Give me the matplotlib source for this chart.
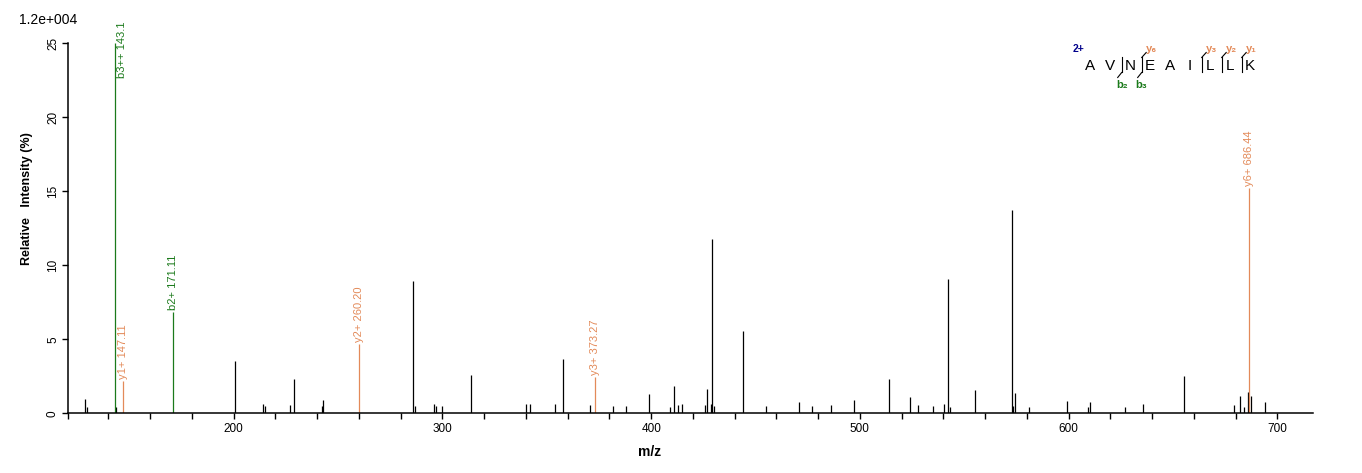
import matplotlib
matplotlib.use('Agg')
import matplotlib.pyplot as plt
from matplotlib.lines import Line2D

plt.rcParams['font.family'] = ['Liberation Sans', 'DejaVu Sans']

W, H = 1362, 473

# ---- data ----
peak_mz = [128.9, 129.7, 143.8, 200.8, 214.2, 215.1, 227.1, 229.0, 242.2, 242.9,
           286.05, 287.0, 296.1, 297.1, 299.9, 313.8, 340.2, 342.1, 354.1, 357.9,
           370.9, 381.9, 388.1, 399.1, 409.2, 411.1, 413.0, 414.9, 425.9, 426.9,
           428.8, 429.3, 430.3, 444.2, 455.2, 471.0, 477.2, 486.3, 497.3, 514.1,
           524.2, 528.0, 535.2, 540.5, 542.4, 543.3, 555.3, 573.0, 573.5, 574.5,
           581.2, 599.4, 609.5, 610.4, 627.2, 635.8, 655.4, 679.4, 682.3, 684.2,
           686.1, 687.6, 694.3]
peak_int = [0.97, 0.43, 0.43, 3.53, 0.63, 0.50, 0.57, 2.32, 0.52, 0.90,
            8.94, 0.50, 0.63, 0.50, 0.50, 2.59, 0.63, 0.63, 0.63, 3.69,
            0.57, 0.50, 0.50, 1.33, 0.43, 1.84, 0.57, 0.63, 0.57, 1.64,
            0.63, 11.78, 0.50, 5.56, 0.50, 0.77, 0.50, 0.57, 0.90, 2.32,
            1.10, 0.57, 0.50, 0.63, 9.07, 0.43, 1.57, 13.73, 0.50, 1.37,
            0.43, 0.84, 0.43, 0.77, 0.43, 0.63, 2.52, 0.57, 1.17, 0.43,
            1.44, 1.17, 0.77]

ann_mz = [142.9, 147.11, 171.11, 260.20, 373.27, 686.44]
ann_int = [25.0, 2.2, 6.87, 4.66, 2.45, 15.2]
ann_labels = ['b3++ 143.1', 'y1+ 147.11', 'b2+ 171.11', 'y2+ 260.20', 'y3+ 373.27', 'y6+ 686.44']
ann_type = ['b', 'y', 'b', 'y', 'y', 'y']

sequence = list("AVNEAILLK")
charge_label = "2+"
b_ions = [2, 3]          # b_n : break after residue n
y_ions = [6, 3, 2, 1]    # y_n : break before last n residues

x_major = [200, 300, 400, 500, 600, 700]
y_ticks = [0, 5, 10, 15, 20, 25]
scale_label = "1.2e+004"

ORANGE = '#E38A59'
GREEN = '#1B7A1B'
NAVY = '#00008B'

# ---- figure ----
fig = plt.figure(figsize=(W / 100, H / 100), dpi=100)
x0, x1 = 68.3, 1313.0
y0, y1 = 413.3, 43.3
ax = fig.add_axes([x0 / W, 1 - y0 / H, (x1 - x0) / W, (y0 - y1) / H])
ax.set_xlim(120.75, 717.1)
ax.set_ylim(0, 25)

ax.vlines(peak_mz, 0, peak_int, colors='black', lw=0.9)

for m, i, lab, t in zip(ann_mz, ann_int, ann_labels, ann_type):
    c = GREEN if t == 'b' else ORANGE
    ax.vlines([m], 0, [i], colors=c, lw=0.9)
    if i > 20:
        # label pushed down beside the line, top at ~21.7 px
        ax.annotate(lab, xy=(m, i), xycoords='data',
                    xytext=(5.6, (43.3 - 21.7) * 72 / 100), textcoords='offset points',
                    rotation=90, ha='center', va='top', color=c,
                    fontsize=8, annotation_clip=False)
    else:
        ax.annotate(lab, xy=(m, i), xycoords='data',
                    xytext=(0, 1.5), textcoords='offset points',
                    rotation=90, ha='center', va='bottom', color=c,
                    fontsize=8, annotation_clip=False)

for s in ['top', 'right']:
    ax.spines[s].set_visible(False)
ax.spines['left'].set_bounds(0, 25)
ax.spines['left'].set_linewidth(1.1)
ax.spines['bottom'].set_linewidth(1.1)

xt = [120.75] + list(range(140, 701, 20))
ax.set_xticks(xt)
ax.set_xticklabels([str(v) if v in x_major else '' for v in xt])
ax.set_yticks(y_ticks)
ax.set_yticklabels([str(v) for v in y_ticks], rotation=90, va='center')
ax.tick_params(axis='both', direction='out', length=4.4, width=1.0,
               labelsize=8.5, colors='black')
ax.tick_params(axis='x', pad=2.8)
ax.tick_params(axis='y', pad=2.3)

fig.text(27 / W, 1 - 199 / H, 'Relative   Intensity (%)', rotation=90,
         ha='center', va='center', fontweight='bold', fontsize=9)
fig.text(650 / W, 1 - 451.5 / H, 'm/z', ha='center', va='center',
         fontweight='bold', fontsize=10)
fig.text(19 / W, 1 - 20 / H, scale_label, ha='left', va='center', fontsize=10)

# ---- peptide sequence annotation ----
def P(x, y):
    return (x / W, 1 - y / H)

fig.text(*P(1078.5, 49), charge_label, color=NAVY, fontsize=7.5,
         fontweight='bold', ha='center', va='center')
seq_x0, seq_dx, seq_y = 1090.0, 20.0, 66.5
for k, aa in enumerate(sequence):
    fig.text(*P(seq_x0 + k * seq_dx, seq_y), aa, fontsize=11,
             ha='center', va='center', color='black')

n = len(sequence)
def sep_x(after_idx):
    return seq_x0 + (after_idx - 1) * seq_dx + 11.7

breaks = sorted(set(b_ions) | set(n - y for y in y_ions))
for br in breaks:
    xs = sep_x(br)
    fig.add_artist(Line2D([xs / W, xs / W], [1 - 57.5 / H, 1 - 72.5 / H],
                          color='black', lw=0.8))
    if br in b_ions:
        fig.add_artist(Line2D([xs / W, (xs - 4) / W], [1 - 72.5 / H, 1 - 77.5 / H],
                              color='black', lw=0.8))
        fig.text(*P(xs, 84.5), 'b' + '₂₃₄₅₆₇₈₉'[br - 2], color=GREEN,
                 fontsize=8, fontweight='bold', ha='center', va='center')
    yn = n - br
    if yn in y_ions:
        fig.add_artist(Line2D([xs / W, (xs + 4.5) / W], [1 - 57.5 / H, 1 - 52.5 / H],
                              color='black', lw=0.8))
        fig.text(*P(xs + 9.5, 48.5), 'y' + '₁₂₃₄₅₆₇₈₉'[yn - 1], color=ORANGE,
                 fontsize=8, fontweight='bold', ha='center', va='center')

fig.savefig('out.png', dpi=100)
